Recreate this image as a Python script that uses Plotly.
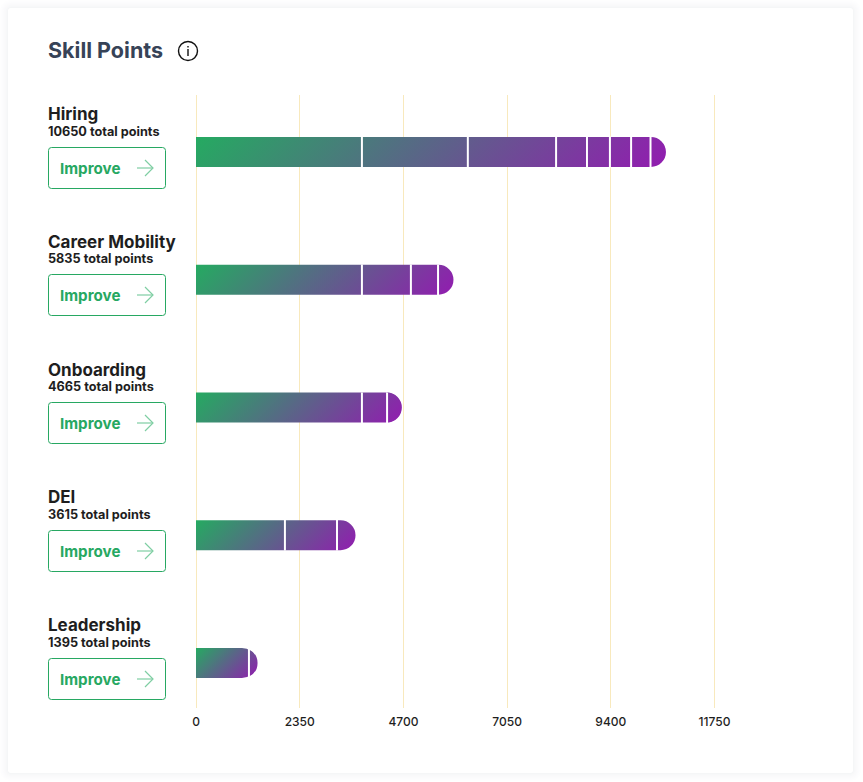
import math
import plotly.graph_objects as go

categories = ["Hiring", "Career Mobility", "Onboarding", "DEI", "Leadership"]
totals = [10650, 5835, 4665, 3615, 1395]
hiring = [3760, 2400, 2000, 700, 520, 480, 440, 350]
career_mobility = [3760, 1110, 615, 350]
onboarding = [3760, 570, 335]
dei = [2015, 1180, 420]
leadership = [1200, 195]
tick_values = [0, 2350, 4700, 7050, 9400, 11750]
title_text = "Skill Points"
button_text = "Improve"
segments = [hiring, career_mobility, onboarding, dei, leadership]

FONT = "Inter, Lato, sans-serif"
GREEN = (37, 170, 97)
PURPLE = (146, 28, 176)
GREEN_TXT = "#27a862"
DARK = "#1e1e1e"
W, H = 863, 782
X_ZERO, X_MAX_TICK = 196, 714.5
L, R, T, B = 190, 760, 95, 708
ROW0, ROW_STEP = 152, 127.75
BAR_PX = 30
K = (X_MAX_TICK - X_ZERO) / tick_values[-1]


def xp(px):
    return (px - L) / (R - L)


def yp(py):
    return (B - py) / (B - T)


def mix(t):
    c = [round(GREEN[i] + (PURPLE[i] - GREEN[i]) * t) for i in range(3)]
    return f"rgb({c[0]},{c[1]},{c[2]})"


fig = go.Figure()
levels = max(len(s) for s in segments)
for lv in range(levels):
    xs, cols = [], []
    for s, tot in zip(segments, totals):
        if lv < len(s):
            xs.append(s[lv])
            start = sum(s[:lv])
            cols.append(mix((start + s[lv] / 2) / tot))
        else:
            xs.append(None)
            cols.append("rgba(0,0,0,0)")
    fig.add_trace(go.Bar(y=categories, x=xs, orientation="h", width=BAR_PX / ROW_STEP,
                         marker=dict(color=cols, line=dict(width=0)),
                         hoverinfo="skip", showlegend=False))

shapes, annos = [], []


def rect_path(x0, y0, x1, y1, r):
    X0, X1, Y0, Y1 = xp(x0), xp(x1), yp(y0), yp(y1)
    rx, ry = r / (R - L), r / (B - T)
    return (f"M{X0 + rx},{Y0} L{X1 - rx},{Y0} Q{X1},{Y0} {X1},{Y0 - ry} "
            f"L{X1},{Y1 + ry} Q{X1},{Y1} {X1 - rx},{Y1} L{X0 + rx},{Y1} "
            f"Q{X0},{Y1} {X0},{Y1 + ry} L{X0},{Y0 - ry} Q{X0},{Y0} {X0 + rx},{Y0} Z")


def text(px, py, s, size, color=DARK, weight=600, anchor="left"):
    annos.append(dict(xref="paper", yref="paper", x=xp(px), y=yp(py), text=s, showarrow=False,
                      xanchor=anchor, yanchor="middle", xshift=0, align="left", borderpad=0, borderwidth=0,
                      font=dict(family=FONT, size=size, color=color, weight=weight)))


for grow, col in [(8, "#fefefe"), (7, "#fdfdfe"), (6, "#fcfcfd"), (5, "#fbfbfc"), (4, "#fafafb"),
                  (3, "#f9f9fa"), (2, "#f7f8f9"), (1, "#f5f6f7")]:
    shapes.append(dict(type="path", xref="paper", yref="paper", layer="below", line=dict(width=0),
                       fillcolor=col, path=rect_path(8 - grow, 8 - grow, 853 + grow, 773 + grow, 4 + grow)))
shapes.append(dict(type="path", xref="paper", yref="paper", layer="below", line=dict(width=0),
                   fillcolor="white", path=rect_path(8, 8, 853, 773, 3)))

text(47.5, 50, title_text, 21.5, "#374357", 700)
shapes.append(dict(type="circle", xref="paper", yref="paper", layer="above",
                   x0=xp(178.5), x1=xp(197.5), y0=yp(60.5), y1=yp(41.5),
                   line=dict(color="#111111", width=1.4)))
shapes.append(dict(type="line", xref="paper", yref="paper", layer="above",
                   x0=xp(188), x1=xp(188), y0=yp(49), y1=yp(56), line=dict(color="#111111", width=1.4)))
shapes.append(dict(type="line", xref="paper", yref="paper", layer="above",
                   x0=xp(188), x1=xp(188), y0=yp(46), y1=yp(47.4), line=dict(color="#111111", width=1.4)))

for i, (cat, tot, segs) in enumerate(zip(categories, totals, segments)):
    c = round(ROW0 + i * ROW_STEP)
    f = math.floor(ROW0 + i * ROW_STEP)
    edge = 0
    for v in segs[:-1]:
        edge += v
        shapes.append(dict(type="line", xref="x", yref="paper", layer="above", x0=edge, x1=edge,
                           y0=yp(c - BAR_PX / 2 - 0.5), y1=yp(c + BAR_PX / 2 + 0.5),
                           line=dict(color="white", width=2)))
    text(47.5, c - 38, cat, 17, DARK, 700)
    text(47.5, f - 20.5, f"{tot} total points", 12.7, DARK, 700)
    shapes.append(dict(type="path", xref="paper", yref="paper", layer="above",
                       line=dict(color=GREEN_TXT, width=1), fillcolor="rgba(0,0,0,0)",
                       path=rect_path(48.5, f - 4.5, 165.5, f + 36.5, 3)))
    text(60, f + 16, button_text, 15.2, GREEN_TXT, 700)
    shapes.append(dict(type="line", xref="paper", yref="paper", layer="above",
                       x0=xp(137), x1=xp(153), y0=yp(f + 16), y1=yp(f + 16),
                       line=dict(color="#7fcea3", width=1.2)))
    shapes.append(dict(type="path", xref="paper", yref="paper", layer="above",
                       line=dict(color="#7fcea3", width=1.2), fillcolor="rgba(0,0,0,0)",
                       path=f"M{xp(145)},{yp(f + 8)} L{xp(153)},{yp(f + 16)} L{xp(145)},{yp(f + 24)}"))

top_u = (T - ROW0) / ROW_STEP
bot_u = (B - ROW0) / ROW_STEP

fig.update_layout(
    width=W, height=H, autosize=False,
    margin=dict(l=L, r=W - R, t=T, b=H - B, pad=0),
    paper_bgcolor="#ffffff", plot_bgcolor="rgba(0,0,0,0)",
    barmode="stack", barcornerradius=15, showlegend=False,
    shapes=shapes, annotations=annos,
    xaxis=dict(range=[(L - X_ZERO) / K, (R - X_ZERO) / K], tickmode="array", tickvals=tick_values,
               ticktext=[str(v) for v in tick_values], showgrid=True, gridcolor="#f8e9bd", gridwidth=1,
               zeroline=False, showline=False, ticks="outside", ticklen=3, tickcolor="rgba(0,0,0,0)",
               tickfont=dict(family=FONT, size=12, color=DARK, weight=500)),
    yaxis=dict(categoryorder="array", categoryarray=categories, range=[bot_u, top_u],
               showticklabels=False, showgrid=False, zeroline=False, showline=False, ticks=""),
    hovermode=False,
)

post = """
(function(){
  document.documentElement.style.margin = '0';
  document.body.style.margin = '0';
  var gd = document.getElementById('{plot_id}');
  var C0 = 'rgb(37,170,97)', C1 = 'rgb(146,28,176)', ANGLE = 135 * Math.PI / 180;
  function paint(){
    var svg = gd.querySelector('svg.main-svg');
    if(!svg) return;
    var defs = svg.querySelector('defs');
    var ns = 'http://www.w3.org/2000/svg';
    var paths = gd.querySelectorAll('.barlayer .point path');
    var rows = [];
    paths.forEach(function(p){
      var b = p.getBBox();
      if(!b.width) return;
      var cy = b.y + b.height / 2, r = null;
      rows.forEach(function(q){ if(Math.abs(q.cy - cy) < 20) r = q; });
      if(!r){ r = {cy:cy, x0:1e9, x1:-1e9, y0:1e9, y1:-1e9, items:[]}; rows.push(r); }
      r.x0 = Math.min(r.x0, b.x); r.x1 = Math.max(r.x1, b.x + b.width);
      r.y0 = Math.min(r.y0, b.y); r.y1 = Math.max(r.y1, b.y + b.height);
      r.items.push(p);
    });
    rows.forEach(function(r, k){
      var id = 'stackgrad' + k, g = document.getElementById(id);
      if(!g){
        g = document.createElementNS(ns, 'linearGradient');
        g.setAttribute('id', id);
        g.setAttribute('gradientUnits', 'userSpaceOnUse');
        [[0, C0], [1, C1]].forEach(function(st){
          var s = document.createElementNS(ns, 'stop');
          s.setAttribute('offset', st[0]); s.setAttribute('stop-color', st[1]);
          g.appendChild(s);
        });
        defs.appendChild(g);
      }
      var w = r.x1 - r.x0, h = r.y1 - r.y0;
      var sx = Math.sin(ANGLE), cy = -Math.cos(ANGLE);
      var len = Math.abs(w * sx) + Math.abs(h * cy);
      var mx = r.x0 + w / 2, my = r.y0 + h / 2;
      g.setAttribute('x1', mx - sx * len / 2); g.setAttribute('y1', my - cy * len / 2);
      g.setAttribute('x2', mx + sx * len / 2); g.setAttribute('y2', my + cy * len / 2);
      r.items.forEach(function(p){
        p.style.fill = 'url(#' + id + ')';
        p.style.shapeRendering = 'geometricPrecision';
      });
    });
  }
  gd.on('plotly_afterplot', paint);
  paint();
})();
"""

fig.write_html("out.html", post_script=post, config=dict(displayModeBar=False))
